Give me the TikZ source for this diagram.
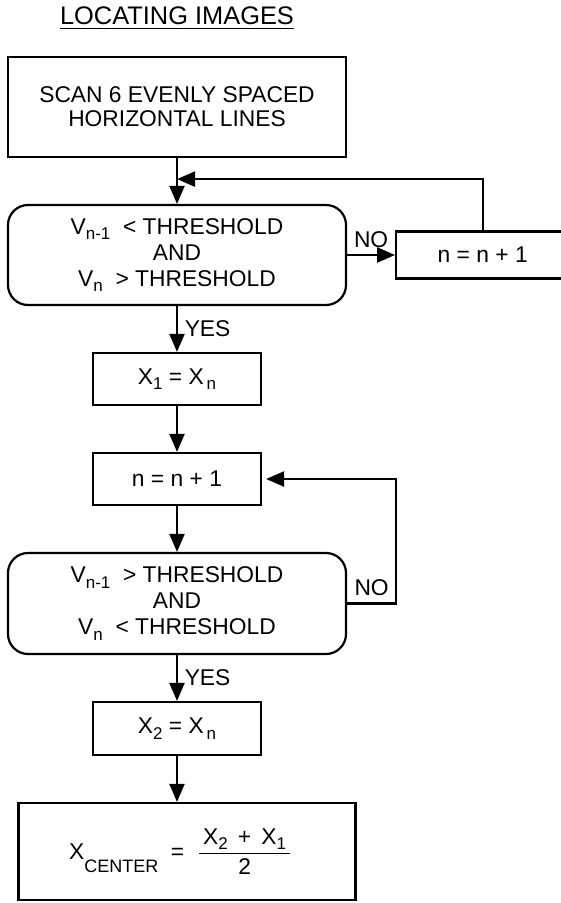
\documentclass[tikz,border=0pt]{standalone}
\usepackage{fontspec}
\setmainfont{Liberation Sans}
\usetikzlibrary{positioning,arrows.meta}
\newcommand{\lowsub}[2][0.45ex]{\raisebox{-#1}{\fontsize{8.5}{8.5}\selectfont #2}}

\begin{document}
\begin{tikzpicture}[x=0.5pt, y=0.5pt, node distance=22.9pt, line width=1.1pt,
  every node/.style={align=center, font=\fontsize{11.4}{13}\selectfont},
  box/.style={draw, inner sep=0pt, minimum width=84pt, minimum height=26pt},
  wide/.style={draw, inner sep=0pt, minimum width=169pt, minimum height=50pt},
  test/.style={wide, rounded corners=10pt},
  arr/.style={-{Triangle[length=9pt,width=7.5pt]}}]
\useasboundingbox (0,0) rectangle (561,-903);

\node (title) [anchor=base, font=\fontsize{12.7}{14}\selectfont] at (177,-25) {\underline{LOCATING IMAGES}};
\node (scan) [wide, font=\fontsize{11.4}{12}\selectfont] at (177,-107) {SCAN 6 EVENLY SPACED\\HORIZONTAL LINES};
\node (dec1) [test, below=of scan] {V\lowsub{n-1}\ \ < THRESHOLD\\AND\\V\lowsub{n}\ \ > THRESHOLD};
\node (loop1) [box, minimum width=86.5pt, minimum height=23.5pt, right=24pt of dec1] {n = n + 1};
\node (x1) [box, below=of dec1] {X\lowsub{1} = X\lowsub{\,n}};
\node (n2) [box, below=of x1] {n = n + 1};
\node (dec2) [test, minimum height=50.5pt, below=of n2] {V\lowsub{n-1}\ \ > THRESHOLD\\AND\\V\lowsub{n}\ \ < THRESHOLD};
\node (x2) [box, minimum height=26.5pt, below=of dec2] {X\lowsub{2} = X\lowsub{\,n}};
\node (ctr) [wide, minimum width=168.5pt, minimum height=48.5pt, below=of x2, xshift=5pt] {X\raisebox{-1.1ex}{\fontsize{9}{9}\selectfont CENTER}\ \ =\ \ $\displaystyle\frac{\mbox{\,X\lowsub{2}\, + \,X\lowsub{1}\,}}{\mbox{2}}$\ \ };
\coordinate [below=10.5pt of scan.south] (join);

\draw[arr] (scan) -- (dec1);
\draw[arr] (loop1.north) |- (join);
\draw[arr] (dec1) -- node[above] {NO} (loop1);
\draw[arr] (dec1) -- node[right] {YES} (x1);
\draw[arr] (x1) -- (n2);
\draw[arr] (n2) -- (dec2);
\draw[arr, shorten >=2pt] (dec2.east) -- node[above] {NO} ++(24.5pt,0) |- (n2.east);
\draw[arr] (dec2) -- node[right] {YES} (x2);
\draw[arr] (x2) -- (x2 |- ctr.north);
\end{tikzpicture}
\end{document}
